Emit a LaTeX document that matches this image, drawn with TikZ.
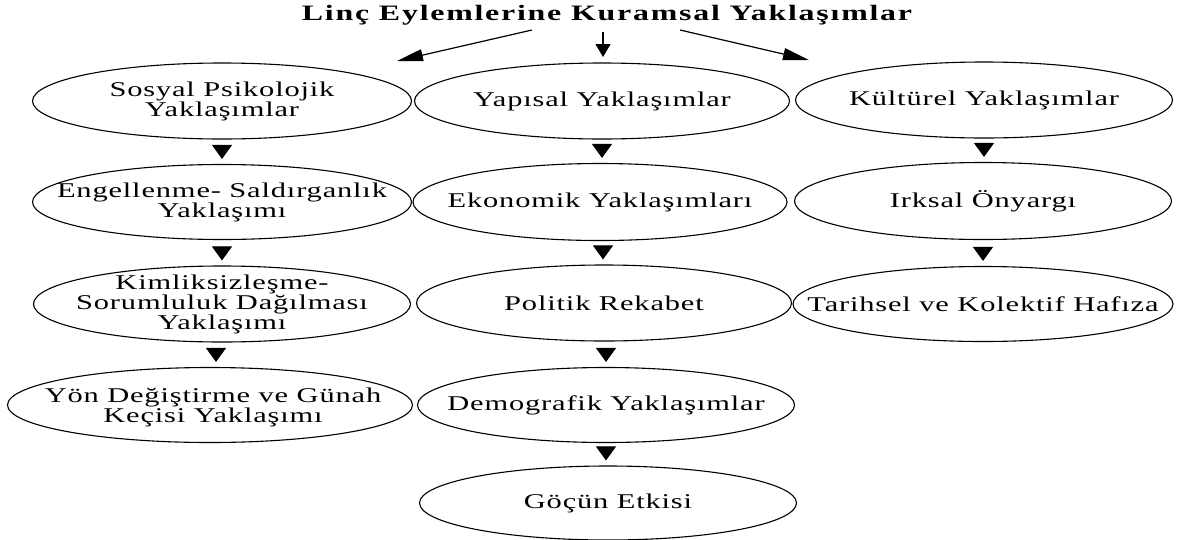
\documentclass[tikz,border=0pt]{standalone}
\usepackage{fontspec}
\setmainfont{Liberation Serif}[FakeStretch=1.45, LetterSpace=4]
\newfontfamily\titlefont{Liberation Serif}[FakeStretch=1.45, LetterSpace=8]
\usetikzlibrary{shapes.geometric, arrows.meta}
\tikzset{
  oval/.style={draw, line width=1.1pt, ellipse, inner sep=0pt},
  lbl/.style={align=center, inner sep=0pt, font=\fontsize{21}{20}\selectfont},
  ttl/.style={inner sep=0pt, font=\titlefont\fontsize{22}{22}\selectfont\bfseries},
  tri/.style={-{Triangle[width=20pt,length=14pt]}, line width=1pt, shorten <=7pt, shorten >=5pt},
  diag/.style={-{Triangle[width=12pt,length=26pt]}, line width=1.2pt},
  vert/.style={-{Triangle[width=15pt,length=13pt]}, line width=1.4pt}
}
\begin{document}
\begin{tikzpicture}[x=1pt,y=-1pt]
\useasboundingbox (0,0) rectangle (1187,539);
% title
\node[ttl] (title) at (607,15) {Linç Eylemlerine Kuramsal Yaklaşımlar};
% column 1
\node[oval, minimum width=379pt, minimum height=76pt] (s1) at (222,101) {};
\node[lbl] (s1t) at (s1) {Sosyal Psikolojik\\Yaklaşımlar};
\node[oval, minimum width=379pt, minimum height=75pt] (s2) at (222,202) {};
\node[lbl] (s2t) at (s2) {Engellenme- Saldırganlık\\Yaklaşımı};
\node[oval, minimum width=377pt, minimum height=76pt] (s3) at (222,304) {};
\node[lbl] (s3t) at (s3) {Kimliksizleşme-\\Sorumluluk Dağılması\\Yaklaşımı};
\node[oval, minimum width=405pt, minimum height=75pt] (s4) at (210,405) {};
\node[lbl] (s4t) at (213,407) {Yön Değiştirme ve Günah\\Keçisi Yaklaşımı};
% column 2
\node[oval, minimum width=375pt, minimum height=76pt] (y1) at (602,101) {};
\node[lbl] (y1t) at (y1) {Yapısal Yaklaşımlar};
\node[oval, minimum width=374pt, minimum height=77pt] (y2) at (600,202) {};
\node[lbl] (y2t) at (y2) {Ekonomik Yaklaşımları};
\node[oval, minimum width=375pt, minimum height=76pt] (y3) at (604,303) {};
\node[lbl] (y3t) at (y3) {Politik Rekabet};
\node[oval, minimum width=377pt, minimum height=75pt] (y4) at (606,405) {};
\node[lbl] (y4t) at (y4) {Demografik Yaklaşımlar};
\node[oval, minimum width=377pt, minimum height=74pt] (y5) at (608,503) {};
\node[lbl] (y5t) at (y5) {Göçün Etkisi};
% column 3
\node[oval, minimum width=377pt, minimum height=76pt] (k1) at (984,100) {};
\node[lbl] (k1t) at (k1) {Kültürel Yaklaşımlar};
\node[oval, minimum width=377pt, minimum height=77pt] (k2) at (983,201) {};
\node[lbl] (k2t) at (k2) {Irksal Önyargı};
\node[oval, minimum width=380pt, minimum height=75pt] (k3) at (983,304) {};
\node[lbl] (k3t) at (k3) {Tarihsel ve Kolektif Hafıza};
% title arrows
\coordinate (t1s) at (532,30); \coordinate (t1e) at (397,61);
\coordinate (t2s) at (603,32); \coordinate (t2e) at (603,57);
\coordinate (t3s) at (680,30); \coordinate (t3e) at (809,60);
\draw[diag] (t1s) -- (t1e);
\draw[vert] (t2s) -- (t2e);
\draw[diag] (t3s) -- (t3e);
% row arrows
\draw[tri] (s1.south) -- (s1.south |- s2.north);
\draw[tri] (s2.south) -- (s2.south |- s3.north);
\draw[tri] ([xshift=-6pt]s3.south) -- ([xshift=-6pt]s3.south |- s4.north);
\draw[tri] (y1.south) -- (y1.south |- y2.north);
\draw[tri] ([xshift=3pt]y2.south) -- ([xshift=3pt]y2.south |- y3.north);
\draw[tri] ([xshift=2pt]y3.south) -- ([xshift=2pt]y3.south |- y4.north);
\draw[tri] (y4.south) -- (y4.south |- y5.north);
\draw[tri] (k1.south) -- (k1.south |- k2.north);
\draw[tri] (k2.south) -- (k2.south |- k3.north);
\end{tikzpicture}
\end{document}
